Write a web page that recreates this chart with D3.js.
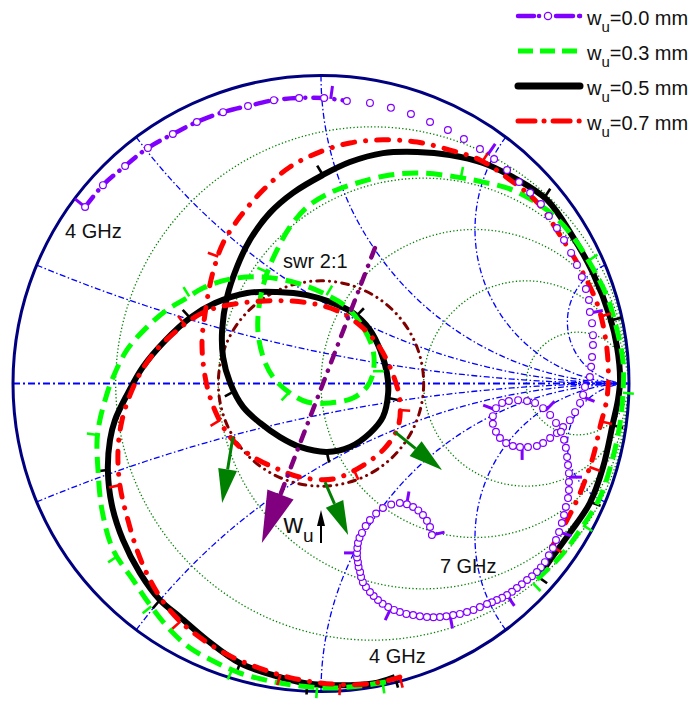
<!DOCTYPE html>
<html>
<head>
<meta charset="utf-8">
<script src="https://cdn.jsdelivr.net/npm/d3@7"></script>
<style>
  body { margin: 0; background: #fff; }
  svg { display: block; font-family: "Liberation Sans", Arial, sans-serif; }
</style>
</head>
<body>
<svg id="chart" width="699" height="704"></svg>
<script>
// Smith chart grid values
const resistanceCircles = [0.2, 0.5, 1, 2, 5];
const reactanceArcs = [0.2, 0.5, 1, 2, 5, -0.2, -0.5, -1, -2, -5];
const swrValue = 2;

// Reflection coefficient traces (Re Γ, Im Γ), 4 GHz -> 7 GHz
const curveWu00 = [[-0.766,0.573],[-0.708,0.644],[-0.636,0.706],[-0.562,0.765],[-0.481,0.810],[-0.403,0.849],[-0.318,0.881],[-0.237,0.901],[-0.153,0.920],[-0.071,0.927],[0.010,0.927],[0.084,0.917],[0.159,0.911],[0.227,0.895],[0.292,0.875],[0.354,0.849],[0.412,0.823],[0.464,0.794],[0.516,0.761],[0.562,0.729],[0.604,0.693],[0.643,0.654],[0.679,0.619],[0.714,0.583],[0.740,0.544],[0.766,0.505],[0.789,0.466],[0.812,0.424],[0.831,0.385],[0.847,0.346],[0.860,0.307],[0.870,0.271],[0.873,0.232],[0.880,0.196],[0.883,0.157],[0.883,0.125],[0.880,0.086],[0.877,0.054],[0.873,0.021],[0.857,-0.011],[0.851,-0.037],[0.841,-0.063],[0.825,-0.093],[0.808,-0.119],[0.786,-0.141],[0.766,-0.161],[0.744,-0.177],[0.721,-0.193],[0.701,-0.203],[0.672,-0.206],[0.646,-0.206],[0.623,-0.203],[0.601,-0.193],[0.581,-0.177],[0.568,-0.157],[0.558,-0.131],[0.558,-0.106],[0.568,-0.080],[0.588,-0.063],[0.610,-0.057],[0.640,-0.054],[0.669,-0.057],[0.695,-0.063],[0.721,-0.080],[0.744,-0.102],[0.763,-0.128],[0.779,-0.157],[0.789,-0.183],[0.795,-0.209],[0.799,-0.239],[0.802,-0.265],[0.805,-0.291],[0.805,-0.320],[0.805,-0.346],[0.802,-0.372],[0.795,-0.401],[0.789,-0.427],[0.782,-0.453],[0.773,-0.482],[0.763,-0.508],[0.753,-0.534],[0.740,-0.558],[0.727,-0.580],[0.714,-0.597],[0.701,-0.612],[0.685,-0.626],[0.669,-0.638],[0.652,-0.652],[0.636,-0.664],[0.620,-0.676],[0.604,-0.687],[0.588,-0.696],[0.571,-0.703],[0.555,-0.710],[0.539,-0.716],[0.516,-0.726],[0.495,-0.735],[0.474,-0.742],[0.451,-0.748],[0.429,-0.752],[0.407,-0.756],[0.386,-0.758],[0.365,-0.759],[0.344,-0.758],[0.321,-0.756],[0.299,-0.752],[0.277,-0.748],[0.256,-0.742],[0.237,-0.735],[0.218,-0.726],[0.200,-0.715],[0.185,-0.703],[0.171,-0.690],[0.159,-0.677],[0.146,-0.661],[0.136,-0.645],[0.130,-0.628],[0.127,-0.612],[0.122,-0.596],[0.120,-0.580],[0.117,-0.565],[0.117,-0.550],[0.118,-0.534],[0.120,-0.518],[0.125,-0.501],[0.133,-0.485],[0.145,-0.463],[0.159,-0.443],[0.179,-0.422],[0.201,-0.404],[0.228,-0.393],[0.256,-0.388],[0.279,-0.392],[0.299,-0.401],[0.316,-0.412],[0.331,-0.427],[0.344,-0.446],[0.354,-0.466],[0.360,-0.492]];
// number of leading points of the 0.0 mm trace joined by its dash-dot line
const wu00LinePoints = 12;

const curveWu03 = [[0.211,-0.969],[0.127,-0.982],[0.029,-0.989],[-0.068,-0.982],[-0.166,-0.966],[-0.263,-0.940],[-0.344,-0.904],[-0.425,-0.859],[-0.490,-0.800],[-0.555,-0.719],[-0.610,-0.638],[-0.675,-0.540],[-0.711,-0.411],[-0.724,-0.281],[-0.727,-0.183],[-0.718,-0.119],[-0.701,-0.054],[-0.679,0.011],[-0.630,0.109],[-0.565,0.183],[-0.500,0.239],[-0.442,0.274],[-0.383,0.310],[-0.295,0.339],[-0.188,0.346],[-0.078,0.326],[0.006,0.294],[0.084,0.248],[0.136,0.183],[0.169,0.109],[0.169,0.034],[0.149,-0.011],[0.104,-0.047],[0.029,-0.063],[-0.045,-0.060],[-0.101,-0.031],[-0.156,0.021],[-0.188,0.086],[-0.205,0.174],[-0.198,0.271],[-0.175,0.359],[-0.143,0.433],[-0.101,0.508],[-0.045,0.573],[0.029,0.619],[0.117,0.651],[0.224,0.677],[0.331,0.683],[0.442,0.670],[0.526,0.654],[0.623,0.628],[0.734,0.563],[0.808,0.489],[0.873,0.391],[0.929,0.281],[0.961,0.174],[0.981,0.067],[0.981,-0.021],[0.971,-0.128],[0.948,-0.239],[0.906,-0.369],[0.841,-0.476],[0.776,-0.563],[0.688,-0.648]];

const curveWu05 = [[0.240,-0.953],[0.169,-0.974],[0.062,-0.980],[-0.045,-0.974],[-0.156,-0.947],[-0.263,-0.908],[-0.370,-0.833],[-0.458,-0.758],[-0.523,-0.703],[-0.588,-0.615],[-0.643,-0.508],[-0.679,-0.395],[-0.692,-0.281],[-0.685,-0.183],[-0.669,-0.119],[-0.630,-0.037],[-0.578,0.054],[-0.507,0.138],[-0.425,0.213],[-0.344,0.261],[-0.240,0.294],[-0.143,0.297],[-0.045,0.287],[0.029,0.265],[0.104,0.229],[0.159,0.174],[0.192,0.109],[0.214,0.034],[0.218,-0.031],[0.201,-0.109],[0.159,-0.161],[0.094,-0.206],[0.019,-0.222],[-0.068,-0.206],[-0.133,-0.174],[-0.198,-0.128],[-0.253,-0.076],[-0.295,0.002],[-0.318,0.086],[-0.321,0.174],[-0.305,0.281],[-0.273,0.378],[-0.231,0.466],[-0.166,0.554],[-0.091,0.619],[0.006,0.677],[0.094,0.719],[0.201,0.748],[0.312,0.752],[0.419,0.742],[0.526,0.716],[0.623,0.670],[0.734,0.596],[0.818,0.476],[0.883,0.359],[0.938,0.216],[0.961,0.119],[0.971,0.011],[0.964,-0.054],[0.948,-0.128],[0.916,-0.271],[0.873,-0.388],[0.808,-0.485],[0.744,-0.573],[0.705,-0.628]];

const curveWu07 = [[0.256,-0.953],[0.192,-0.970],[0.094,-0.978],[-0.003,-0.972],[-0.101,-0.955],[-0.198,-0.925],[-0.295,-0.885],[-0.377,-0.836],[-0.451,-0.778],[-0.507,-0.716],[-0.555,-0.638],[-0.594,-0.550],[-0.627,-0.443],[-0.653,-0.330],[-0.659,-0.216],[-0.646,-0.119],[-0.620,-0.037],[-0.581,0.044],[-0.529,0.115],[-0.474,0.167],[-0.409,0.216],[-0.344,0.245],[-0.263,0.261],[-0.182,0.268],[-0.101,0.268],[-0.019,0.258],[0.062,0.232],[0.133,0.183],[0.192,0.115],[0.234,0.028],[0.256,-0.054],[0.250,-0.141],[0.208,-0.209],[0.133,-0.268],[0.039,-0.310],[-0.068,-0.304],[-0.149,-0.274],[-0.231,-0.232],[-0.295,-0.174],[-0.338,-0.102],[-0.367,-0.021],[-0.383,0.070],[-0.386,0.148],[-0.377,0.222],[-0.364,0.304],[-0.347,0.375],[-0.318,0.456],[-0.263,0.541],[-0.188,0.628],[-0.101,0.703],[-0.003,0.752],[0.094,0.781],[0.201,0.791],[0.312,0.784],[0.419,0.758],[0.516,0.726],[0.614,0.661],[0.701,0.589],[0.786,0.466],[0.851,0.358],[0.896,0.261],[0.919,0.174],[0.932,0.067],[0.929,-0.044],[0.906,-0.141],[0.883,-0.239],[0.841,-0.356],[0.799,-0.443],[0.750,-0.530]];

// Frequency markers along each trace
const ticksWu00 = [[-0.766,0.573],[0.032,0.927],[0.545,0.748],[0.873,0.229],[0.851,-0.044],[0.731,-0.086],[0.568,-0.086],[0.653,-0.206],[0.805,-0.304],[0.773,-0.482],[0.604,-0.687],[0.419,-0.752],[0.227,-0.729],[0.117,-0.550],[0.279,-0.388],[0.360,-0.492]];
const ticksWu03 = [[0.201,-0.977],[-0.013,-0.989],[-0.289,-0.930],[-0.545,-0.719],[-0.660,-0.560],[-0.727,-0.167],[-0.425,0.278],[0.020,0.290],[0.169,0.040],[-0.105,-0.030],[-0.170,0.360],[0.455,0.672],[0.870,0.400],[0.981,-0.030],[0.850,-0.460],[0.688,-0.648]];
const ticksWu05 = [[0.240,-0.953],[-0.045,-0.976],[-0.263,-0.908],[-0.523,-0.703],[-0.692,-0.281],[-0.425,0.213],[0.117,0.222],[0.218,-0.047],[0.019,-0.222],[-0.289,-0.029],[0.006,0.677],[0.727,0.606],[0.945,0.206],[0.948,-0.136],[0.883,-0.388],[0.705,-0.628]];
const ticksWu07 = [[0.256,-0.953],[0.062,-0.979],[-0.133,-0.950],[-0.458,-0.774],[-0.653,-0.330],[-0.442,0.190],[0.256,-0.086],[0.110,-0.287],[-0.328,-0.119],[-0.347,0.417],[0.526,0.724],[0.922,0.222],[0.916,-0.125],[0.880,-0.274],[0.750,-0.530]];

const legendLabels = ["0.0", "0.3", "0.5", "0.7"];

// Annotations (Γ plane)
const freqLabels = [
  { text: "4 GHz", at: [-0.831, 0.472] },
  { text: "4 GHz", at: [0.156, -0.907] },
  { text: "7 GHz", at: [0.386, -0.615] },
  { text: "swr 2:1", at: [-0.123, 0.375] }
];
const greenArrowTails = [[-0.286,-0.174],[0.013,-0.320],[0.240,-0.157]];
const greenArrowTips  = [[-0.321,-0.388],[0.088,-0.492],[0.393,-0.281]];
const purpleArrowTail = [0.175, 0.440];
const purpleArrowTip  = [-0.192, -0.518];
const wuLabelAt = [-0.122, -0.485];
const wuArrow = [[0.0, -0.518], [0.0, -0.411]];

// ---------- drawing ----------
const cx = 321, cy = 383.5, R = 308;
const svg = d3.select("#chart");
const x = d3.scaleLinear().domain([-1, 1]).range([cx - R, cx + R]);
const y = d3.scaleLinear().domain([-1, 1]).range([cy + R, cy - R]);
const unit = x(1) - x(0);

const grid = svg.append("g");
// constant resistance circles
resistanceCircles.forEach(r => {
  grid.append("circle")
    .attr("cx", x(r / (1 + r))).attr("cy", y(0))
    .attr("r", unit / (1 + r))
    .attr("fill", "none").attr("stroke", "#008000")
    .attr("stroke-width", 1.3).attr("stroke-dasharray", "1.3,2.2");
});
// constant reactance arcs
const plainLine = d3.line().x(d => x(d[0])).y(d => y(d[1]));
reactanceArcs.forEach(xv => {
  const s = Math.sign(xv), a = Math.abs(xv), c = 1 / a;
  const P = [(a * a - 1) / (a * a + 1), 2 * a / (a * a + 1)];
  let t0 = Math.atan2(P[1] - c, P[0] - 1);
  if (t0 < 0) t0 += 2 * Math.PI;
  const t1 = 1.5 * Math.PI;
  const pts = d3.range(0, 121).map(i => {
    const t = t0 + (t1 - t0) * i / 120;
    return [1 + c * Math.cos(t), s * (c + c * Math.sin(t))];
  });
  grid.append("path").attr("d", plainLine(pts))
    .attr("fill", "none").attr("stroke", "#0000ff")
    .attr("stroke-width", 1.3).attr("stroke-dasharray", "6,2.5,1.5,2.5");
});
// real axis
grid.append("path").attr("d", plainLine([[-1, 0], [1, 0]]))
  .attr("fill", "none").attr("stroke", "#0000ff")
  .attr("stroke-width", 2).attr("stroke-dasharray", "7,3,2,3");

// outer |Γ| = 1 boundary
svg.append("circle").attr("cx", x(0)).attr("cy", y(0)).attr("r", unit)
  .attr("fill", "none").attr("stroke", "#000080").attr("stroke-width", 3);

// VSWR 2:1 circle
const gSwr = (swrValue - 1) / (swrValue + 1);
svg.append("circle").attr("cx", x(0)).attr("cy", y(0)).attr("r", unit * gSwr)
  .attr("fill", "none").attr("stroke", "#800000").attr("stroke-width", 3)
  .attr("stroke-linecap", "round").attr("stroke-dasharray", "7,6,0.1,6,0.1,6");

// traces
const styles = {
  "0.0": { color: "#8000ff", width: 4.5, dash: "13,8,0.1,8", cap: "round", tick: 13 },
  "0.3": { color: "#00ff00", width: 5, dash: "16,8", cap: "butt", tick: 11 },
  "0.5": { color: "#000000", width: 6, dash: null, cap: "butt", tick: 11 },
  "0.7": { color: "#ff0000", width: 5, dash: "12,11,0.1,11", cap: "round", tick: 11 }
};
const series = [
  { key: "0.5", pts: curveWu05, ticks: ticksWu05 },
  { key: "0.3", pts: curveWu03, ticks: ticksWu03 },
  { key: "0.7", pts: curveWu07, ticks: ticksWu07 },
  { key: "0.0", pts: curveWu00, ticks: ticksWu00, linePts: curveWu00.slice(0, wu00LinePoints) }
];
const smooth = d3.line().x(d => x(d[0])).y(d => y(d[1])).curve(d3.curveCatmullRom.alpha(0.5));

function tickSegments(pts, ticks, len) {
  const P = pts.map(d => [x(d[0]), y(d[1])]);
  return ticks.map(t => {
    const q = [x(t[0]), y(t[1])];
    let best = null;
    for (let i = 0; i < P.length - 1; i++) {
      const a = P[i], b = P[i + 1];
      const dx = b[0] - a[0], dy = b[1] - a[1];
      const L2 = dx * dx + dy * dy;
      let u = ((q[0] - a[0]) * dx + (q[1] - a[1]) * dy) / L2;
      u = Math.max(0, Math.min(1, u));
      const p = [a[0] + u * dx, a[1] + u * dy];
      const d2 = (p[0] - q[0]) ** 2 + (p[1] - q[1]) ** 2;
      if (!best || d2 < best.d2) best = { d2, p, dx, dy };
    }
    const n = Math.hypot(best.dx, best.dy);
    const nx = best.dy / n, ny = -best.dx / n;
    return [best.p, [best.p[0] + nx * len, best.p[1] + ny * len]];
  });
}

series.forEach(s => {
  const st = styles[s.key];
  const g = svg.append("g");
  g.append("path").attr("d", smooth(s.linePts || s.pts))
    .attr("fill", "none").attr("stroke", st.color)
    .attr("stroke-width", st.width).attr("stroke-linecap", st.cap)
    .attr("stroke-linejoin", "round")
    .attr("stroke-dasharray", st.dash);
  tickSegments(s.pts, s.ticks, st.tick).forEach(seg => {
    g.append("line")
      .attr("x1", seg[0][0]).attr("y1", seg[0][1])
      .attr("x2", seg[1][0]).attr("y2", seg[1][1])
      .attr("stroke", st.color).attr("stroke-width", s.key === "0.0" ? 3 : 2.6);
  });
  if (s.key === "0.0") {
    g.selectAll("circle.m").data(s.pts).join("circle")
      .attr("class", "m")
      .attr("cx", d => x(d[0])).attr("cy", d => y(d[1])).attr("r", 3.4)
      .attr("fill", "#fff").attr("stroke", st.color).attr("stroke-width", 1.2);
  }
});

// arrows
function arrowHead(g, tail, tip, len, wid, color) {
  const T = [x(tip[0]), y(tip[1])], S = [x(tail[0]), y(tail[1])];
  const dx = T[0] - S[0], dy = T[1] - S[1], n = Math.hypot(dx, dy);
  const ux = dx / n, uy = dy / n;
  const B = [T[0] - ux * len, T[1] - uy * len];
  g.append("path")
    .attr("d", `M${T[0]},${T[1]}L${B[0] - uy * wid / 2},${B[1] + ux * wid / 2}L${B[0] + uy * wid / 2},${B[1] - ux * wid / 2}Z`)
    .attr("fill", color);
  return B;
}
const ga = svg.append("g");
greenArrowTails.forEach((tail, i) => {
  const tip = greenArrowTips[i];
  const B = arrowHead(ga, tail, tip, 34, 19, "#008000");
  ga.append("line").attr("x1", x(tail[0])).attr("y1", y(tail[1]))
    .attr("x2", B[0]).attr("y2", B[1])
    .attr("stroke", "#008000").attr("stroke-width", 3);
});
{
  const B = arrowHead(ga, purpleArrowTail, purpleArrowTip, 52, 28, "#800080");
  ga.append("line").attr("x1", x(purpleArrowTail[0])).attr("y1", y(purpleArrowTail[1]))
    .attr("x2", B[0]).attr("y2", B[1])
    .attr("stroke", "#800080").attr("stroke-width", 4.5)
    .attr("stroke-linecap", "round").attr("stroke-dasharray", "10,9,0.1,9");
}
// w_u direction marker
{
  const B = arrowHead(ga, wuArrow[0], wuArrow[1], 16, 8, "#000");
  ga.append("line").attr("x1", x(wuArrow[0][0])).attr("y1", y(wuArrow[0][1]))
    .attr("x2", B[0]).attr("y2", B[1]).attr("stroke", "#000").attr("stroke-width", 2);
  const t = ga.append("text").attr("x", x(wuLabelAt[0])).attr("y", y(wuLabelAt[1]))
    .attr("font-size", 27).attr("fill", "#111");
  t.append("tspan").text("w");
  t.append("tspan").attr("font-size", 19).attr("dy", 9).text("u");
}

// text labels
freqLabels.forEach(l => {
  svg.append("text").attr("x", x(l.at[0])).attr("y", y(l.at[1]))
    .attr("font-size", 20).attr("fill", "#111").text(l.text);
});

// legend
const legend = svg.append("g");
const legendRows = [16, 51, 86, 121];
legendLabels.forEach((k, i) => {
  const st = styles[k];
  const ly = legendRows[i];
  legend.append("line").attr("x1", 518).attr("x2", 580).attr("y1", ly).attr("y2", ly)
    .attr("stroke", st.color).attr("stroke-width", k === "0.5" ? 7 : st.width)
    .attr("stroke-linecap", k === "0.5" ? "round" : st.cap)
    .attr("stroke-dasharray", k === "0.0" ? "16,5,0.1,40" : (k === "0.7" ? "17,9,0.1,9" : (k === "0.3" ? "15,7" : null)));
  if (k === "0.0") {
    legend.append("circle").attr("cx", 548).attr("cy", ly).attr("r", 3.6)
      .attr("fill", "#fff").attr("stroke", st.color).attr("stroke-width", 1.3);
    legend.append("line").attr("x1", 556).attr("x2", 573).attr("y1", ly).attr("y2", ly)
      .attr("stroke", st.color).attr("stroke-width", st.width).attr("stroke-linecap", "round");
    legend.append("circle").attr("cx", 580).attr("cy", ly).attr("r", 2.2).attr("fill", st.color);
  }
  const t = legend.append("text").attr("x", 587).attr("y", ly + 9)
    .attr("font-size", 20).attr("fill", "#111");
  t.append("tspan").text("w");
  t.append("tspan").attr("font-size", 15).attr("dy", 7).text("u");
  t.append("tspan").attr("dy", -7).text("=" + k + " mm");
});
</script>
</body>
</html>
